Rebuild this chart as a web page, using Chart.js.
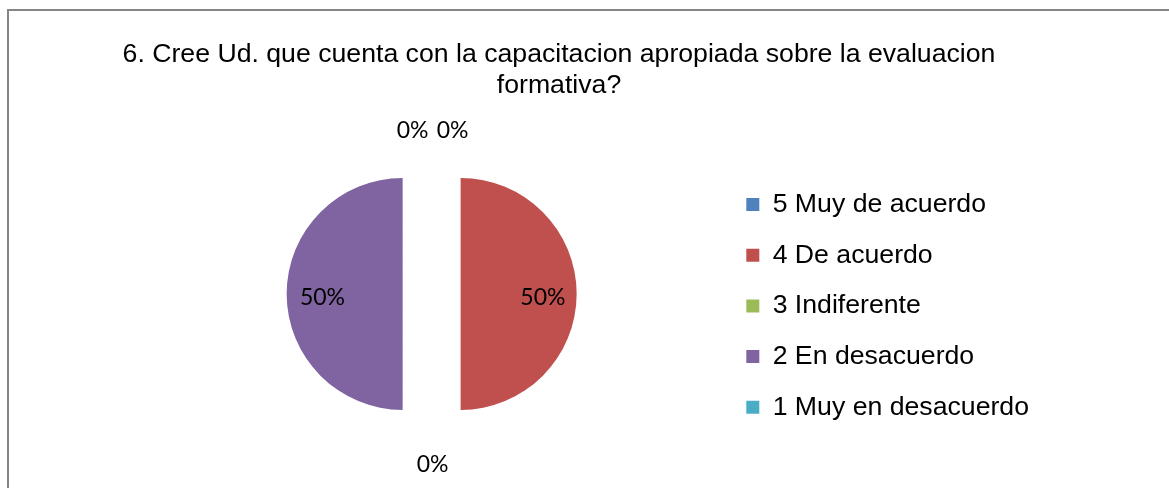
<!DOCTYPE html>
<html>
<head>
<meta charset="utf-8">
<script src="https://cdn.jsdelivr.net/npm/chart.js@4.4.1/dist/chart.umd.min.js"></script>
<style>
  html, body { margin: 0; padding: 0; background: #fff; overflow: hidden; }
  #marco { position: absolute; left: 7px; top: 9px; width: 1200px; height: 520px; border: 2px solid #868686; }
  #marco canvas { display: block; }
</style>
</head>
<body>
<div id="marco"><canvas id="grafico6" width="1100" height="500"></canvas></div>
<script>
// datos de la pregunta 6
const categorias = ["5 Muy de acuerdo", "4 De acuerdo", "3 Indiferente", "2 En desacuerdo", "1 Muy en desacuerdo"];
const porcentajes = [0, 50, 0, 50, 0];
const colores = ["#4F81BD", "#C0504D", "#9BBB59", "#8064A2", "#4BACC6"];
const titulo = ["6. Cree Ud. que cuenta con la capacitacion apropiada sobre la evaluacion", "formativa?"];

const separacion = 29; // porciones separadas (pie "explotado")

// espacio vacio a la izquierda del pie (no cuenta como caja visible)
const margenIzquierdo = {
  id: 'margenIzquierdo',
  beforeInit(chart) {
    Chart.layouts.addBox(chart, {
      position: 'left',
      weight: 0,
      fullSize: false,
      options: {display: false},
      width: 0, height: 0, top: 0, left: 0, right: 0, bottom: 0,
      update(maxW, maxH) { this.width = 62; this.height = maxH; },
      isHorizontal() { return false; },
      draw() {},
    });
  }
};

// dibuja cada porcion desplazada hacia afuera, sin recortar el angulo
const explotar = {
  id: 'explotar',
  beforeDatasetDraw(chart, args) {
    const ctx = chart.ctx;
    args.meta.data.forEach(arc => {
      const mid = (arc.startAngle + arc.endAngle) / 2;
      ctx.save();
      ctx.translate(Math.cos(mid) * separacion, Math.sin(mid) * separacion);
      arc.draw(ctx, chart.chartArea);
      ctx.restore();
    });
    return false;
  }
};

// etiquetas de porcentaje (como en Excel)
const etiquetas = {
  id: 'etiquetas',
  afterDatasetsDraw(chart) {
    const ctx = chart.ctx;
    const arcs = chart.getDatasetMeta(0).data;
    const grupos = {};
    const pos = [];
    arcs.forEach((arc, i) => {
      const mid = (arc.startAngle + arc.endAngle) / 2;
      const cx = Math.cos(mid), cy = Math.sin(mid);
      const r = arc.outerRadius;
      let d;
      if (porcentajes[i] > 0) {
        d = separacion + r * 0.7;
      } else {
        d = r * 1.44;
        const key = Math.round(cx * 10) + ',' + Math.round(cy * 10);
        grupos[key] = grupos[key] || [];
        grupos[key].push(i);
      }
      pos[i] = {x: arc.x + cx * d, y: arc.y + cy * d};
    });
    // separar etiquetas que caen en el mismo sitio
    Object.keys(grupos).forEach(k => {
      const g = grupos[k];
      g.forEach((i, n) => { pos[i].x += (n - (g.length - 1) / 2) * 40; });
    });
    ctx.save();
    ctx.font = '23px Lato';
    ctx.fillStyle = '#000';
    ctx.textAlign = 'center';
    ctx.textBaseline = 'alphabetic';
    pos.forEach((p, i) => {
      const txt = porcentajes[i] + '%';
      const m = ctx.measureText(txt);
      const h = m.actualBoundingBoxAscent - m.actualBoundingBoxDescent;
      ctx.fillText(txt, p.x + 1, p.y + h / 2 + 3);
    });
    ctx.restore();
  }
};

const grafico = new Chart(document.getElementById("grafico6").getContext('2d'), {
  type: "pie",
  data: {
    labels: categorias,
    datasets: [{
      data: porcentajes,
      backgroundColor: colores,
      borderWidth: 0,
      radius: 116,
    }],
  },
  options: {
    responsive: false,
    animation: false,
    events: [],
    layout: {
      padding: {left: 70, right: 70, top: 0, bottom: 34},
    },
    plugins: {
      title: {
        display: true,
        text: titulo,
        color: '#000',
        font: {family: "'Liberation Sans', Arial, sans-serif", size: 26.67, weight: 'normal', lineHeight: 1.15},
        padding: {top: 28.5, bottom: 10},
      },
      legend: {
        position: 'right',
        fullSize: false,
        title: {display: true, text: '', font: {size: 1, lineHeight: 1}, padding: {top: 23, bottom: 0}},
        labels: {
          color: '#000',
          boxWidth: 13,
          boxHeight: 13,
          padding: 24,
          font: {family: "'Liberation Sans', Arial, sans-serif", size: 26.67},
        },
      },
      tooltip: {enabled: false},
    },
  },
  plugins: [margenIzquierdo, explotar, etiquetas],
});
</script>
</body>
</html>
